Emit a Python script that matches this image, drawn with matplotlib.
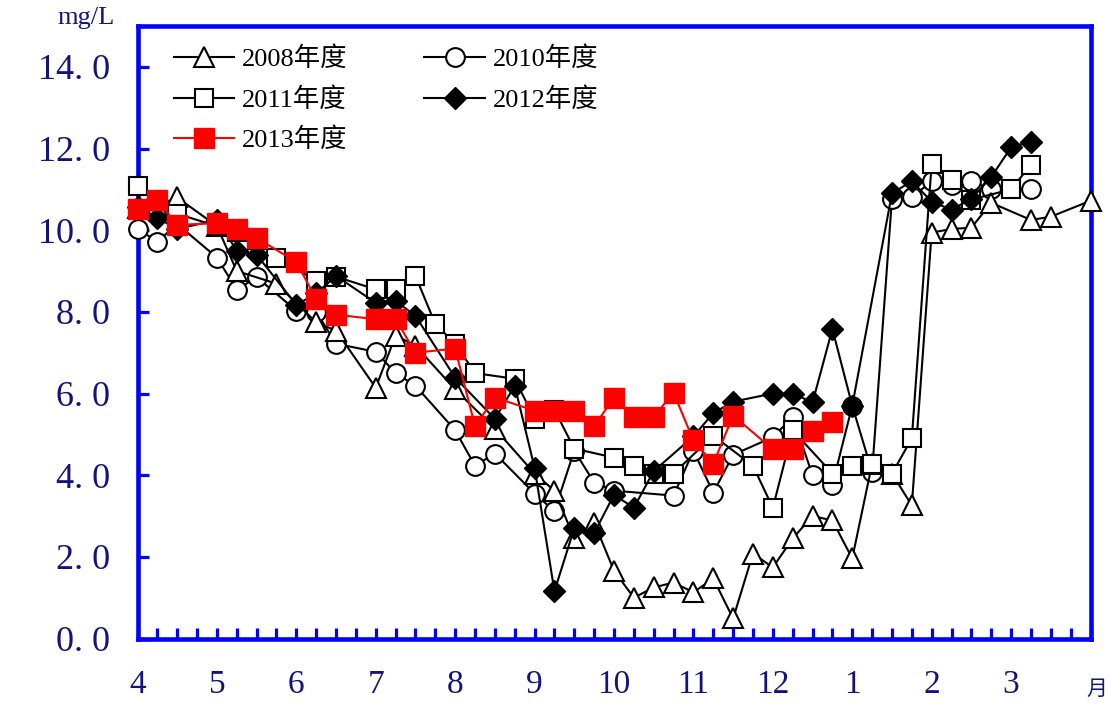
import matplotlib
matplotlib.use("Agg")
import matplotlib.pyplot as plt
from matplotlib.ticker import MultipleLocator, FixedLocator
from matplotlib.font_manager import FontProperties

# Dissolved oxygen by fiscal year; x is the sampling week counted in quarter-months from April.
wk_2008 = [0, 1, 2, 4, 5, 7, 9, 10, 12, 13, 14, 16, 18, 20, 21, 22, 23, 24, 25, 26,
           27, 28, 29, 30, 31, 32, 33, 34, 35, 36, 37, 38, 39, 40, 41, 42, 43, 45, 46, 48]
do_2008 = [10.55, 10.6, 10.8, 10.1, 9.0, 8.69, 7.74, 7.54, 6.14, 7.42, 7.17, 6.1, 5.14, 4.04,
           3.62, 2.45, 2.84, 1.66, 1.0, 1.25, 1.37, 1.13, 1.47, 0.49, 2.08, 1.74, 2.45, 3.0,
           2.89, 1.96, 4.28, 4.04, 3.26, 9.94, 10.03, 10.06, 10.67, 10.25, 10.33, 10.72]

wk_2010 = [0, 1, 2, 4, 5, 6, 8, 9, 10, 12, 13, 14, 16, 17, 18, 20, 21, 22, 23, 24,
           27, 28, 29, 30, 32, 33, 34, 35, 36, 37, 38, 39, 40, 41, 42, 43, 45]
do_2010 = [10.03, 9.72, 10.15, 9.33, 8.54, 8.85, 8.03, 8.0, 7.22, 7.02, 6.5, 6.19, 5.1, 4.23,
           4.53, 3.55, 3.12, 4.6, 3.82, 3.62, 3.5, 4.6, 3.57, 4.5, 4.93, 5.42, 4.0, 3.77,
           5.7, 4.08, 10.77, 10.8, 11.2, 11.1, 11.2, 11.0, 11.0]

wk_2011 = [0, 1, 2, 4, 5, 6, 7, 9, 10, 12, 13, 14, 15, 16, 17, 19, 20, 21, 22, 24,
           25, 26, 27, 29, 31, 32, 33, 35, 36, 37, 38, 39, 40, 41, 42, 44, 45]
do_2011 = [11.09, 10.75, 10.4, 10.1, 9.95, 9.75, 9.33, 8.76, 8.86, 8.55, 8.55, 8.88, 7.7,
           7.22, 6.5, 6.36, 5.38, 5.6, 4.65, 4.43, 4.23, 4.04, 4.04, 4.97, 4.23, 3.2, 5.1,
           4.04, 4.23, 4.28, 4.04, 4.9, 11.63, 11.23, 10.75, 11.0, 11.6]

wk_2012 = [0, 1, 2, 4, 5, 6, 8, 9, 10, 12, 13, 14, 16, 18, 19, 20, 21, 22, 23, 24,
           25, 26, 28, 29, 30, 32, 33, 34, 35, 36, 38, 39, 40, 41, 42, 43, 44, 45]
do_2012 = [10.57, 10.3, 10.03, 10.25, 9.5, 9.4, 8.17, 8.45, 8.88, 8.22, 8.27, 7.9, 6.39,
           5.38, 6.19, 4.18, 1.16, 2.7, 2.58, 3.52, 3.2, 4.1, 4.95, 5.52, 5.8, 6.0, 6.0,
           5.78, 7.58, 5.7, 10.9, 11.2, 10.7, 10.5, 10.77, 11.3, 12.03, 12.17]

wk_2013 = [0, 1, 2, 4, 5, 6, 8, 9, 10, 12, 13, 14, 16, 17, 18, 20, 21, 22, 23, 24,
           25, 26, 27, 28, 29, 30, 32, 33, 34, 35]
do_2013 = [10.52, 10.73, 10.13, 10.17, 10.02, 9.81, 9.22, 8.31, 7.93, 7.82, 7.82, 7.0, 7.1,
           5.2, 5.9, 5.58, 5.58, 5.58, 5.2, 5.9, 5.43, 5.43, 6.02, 4.85, 4.28, 5.46, 4.63,
           4.63, 5.09, 5.31]

month_labels = ["4", "5", "6", "7", "8", "9", "10", "11", "12", "1", "2", "3"]
y_ticks = [0, 2, 4, 6, 8, 10, 12, 14]

NAVY = "#13137d"
BLUE = "#0000ff"
serif = ["Liberation Serif", "Noto Sans CJK SC"]

fig = plt.figure(figsize=(11.1, 7.06), dpi=100)
W, H = 1110, 706
ax = fig.add_axes([137.5 / W, (H - 638.5) / H, (1090.5 - 137.5) / W, (638.5 - 26) / H])


def q(weeks):
    return [w / 4 for w in weeks]


common = dict(color="black", lw=1.5, mec="black", clip_on=False)
l2010, = ax.plot(q(wk_2010), do_2010, marker="o", ms=13.5, mfc="white", mew=1.5,
                 label="2010年度", **common)
l2008, = ax.plot(q(wk_2008), do_2008, marker="^", ms=14.5, mfc="white", mew=1.5,
                 label="2008年度", **common)
l2011, = ax.plot(q(wk_2011), do_2011, marker="s", ms=13.5, mfc="white", mew=1.5,
                 label="2011年度", **common)
l2012, = ax.plot(q(wk_2012), do_2012, marker="D", ms=11, mfc="black", mew=1,
                 label="2012年度", **common)
l2013, = ax.plot(q(wk_2013), do_2013, marker="s", ms=14.5, mfc="red", mec="red", mew=1,
                 color="red", lw=1.5, label="2013年度", clip_on=False)

ax.set_xlim(0, 12)
ax.set_ylim(0, 15)

for s in ax.spines.values():
    s.set_color(BLUE)
    s.set_linewidth(3.3)
    s.set_zorder(1.5)

ax.xaxis.set_major_locator(FixedLocator(range(12)))
ax.xaxis.set_minor_locator(MultipleLocator(0.25))
ax.set_xticklabels(month_labels)
ax.yaxis.set_major_locator(FixedLocator(y_ticks))
ax.set_yticklabels([f"{v:.1f}".replace(".", ". ") for v in y_ticks])

ax.tick_params(axis="x", which="both", direction="in", length=8, width=2.3, color=BLUE,
               top=False, bottom=True)
ax.tick_params(axis="x", which="major", pad=22, labelsize=24, labelcolor=NAVY)
ax.tick_params(axis="y", which="major", direction="in", length=8, width=2.3, color=BLUE,
               right=False, pad=20, labelsize=26, labelcolor=NAVY)
for t in ax.get_xticklabels() + ax.get_yticklabels():
    t.set_family(serif)

fig.text(86 / W, 1 - 18 / H, "mg/L", ha="center", va="center", fontsize=19,
         color=NAVY, family=serif)
fig.text(1097 / W, 1 - 689 / H, "月", ha="center", va="center", fontsize=15,
         color=NAVY, family=["Noto Sans CJK SC"])

leg = ax.legend(handles=[l2008, l2011, l2013, l2010, l2012], ncol=2, loc="upper left",
                bbox_to_anchor=(0.024, 0.988), frameon=False, numpoints=1,
                prop=FontProperties(family=serif, size=19), handlelength=2.3,
                handletextpad=0.3, columnspacing=2.9, labelspacing=0.6, borderpad=0)

fig.savefig("out.png", dpi=100)
